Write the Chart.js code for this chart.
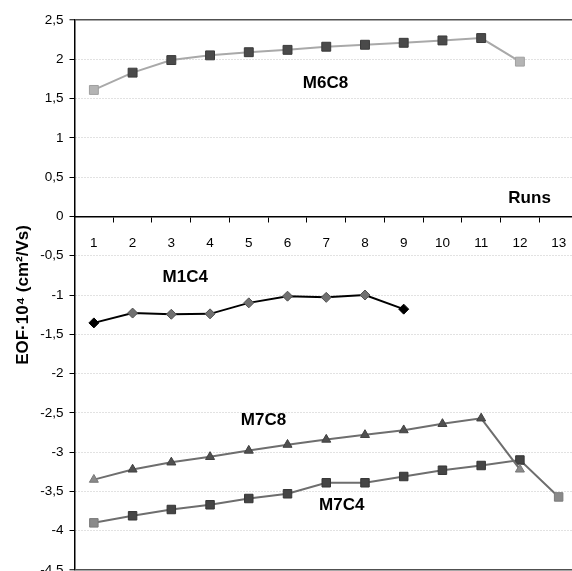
<!DOCTYPE html>
<html>
<head>
<meta charset="utf-8">
<script src="https://cdn.jsdelivr.net/npm/chart.js@4/dist/chart.umd.min.js"></script>
<style>
  html, body { margin: 0; padding: 0; overflow: hidden; background: #fff; }
  #wrap { width: 600px; height: 590px; }
</style>
</head>
<body>
<div id="wrap"><canvas id="eofChart"></canvas></div>
<script>
// runs on the x axis
const runs = ['1', '2', '3', '4', '5', '6', '7', '8', '9', '10', '11', '12', '13']

// EOF values (x10^4 cm2/Vs)
const m6c8 = [1.61, 1.83, 1.99, 2.05, 2.09, 2.12, 2.16, 2.185, 2.21, 2.24, 2.27, 1.97]
const m1c4 = [-1.355, -1.23, -1.245, -1.24, -1.10, -1.015, -1.03, -1.00, -1.18]
const m7c8 = [-3.35, -3.22, -3.13, -3.06, -2.98, -2.905, -2.84, -2.78, -2.72, -2.64, -2.57, -3.22]
const m7c4 = [-3.90, -3.81, -3.73, -3.67, -3.59, -3.53, -3.39, -3.39, -3.31, -3.23, -3.17, -3.10, -3.57]

// series names written inside the plot (x = run index from 0, y = EOF value)
const seriesNames = ['M6C8', 'M1C4', 'M7C8', 'M7C4']
const nameRun = [5.98, 2.36, 4.38, 6.40]
const nameEof = [1.70, -0.77, -2.60, -3.68]

const axisTitleX = 'Runs'
const axisTitleY = 'EOF·10⁴ (cm²/Vs)'

const FONT = '"Liberation Sans", Arial, Helvetica, sans-serif'

// first and last markers are lighter in the original
const markerColors = (n, ends, mid) => Array.from({ length: n }, (_, i) => (i === 0 || i === n - 1) ? ends : mid)

// draws the series names and the "Runs" label
const textLabels = {
    id: 'textLabels',
    afterDatasetsDraw(chart) {
        const { ctx, scales: { x, y } } = chart
        ctx.save()
        ctx.fillStyle = '#000'
        ctx.font = 'bold 17px ' + FONT
        ctx.textAlign = 'center'
        ctx.textBaseline = 'middle'
        seriesNames.forEach((name, i) => {
            ctx.fillText(name, x.getPixelForValue(nameRun[i]), y.getPixelForValue(nameEof[i]))
        })
        ctx.fillText(axisTitleX, x.getPixelForValue(11.25), y.getPixelForValue(0.225))
        ctx.restore()
    }
}

const data = {
    labels: runs,
    datasets: [
        {
            label: 'M6C8',
            data: m6c8,
            borderColor: '#a9a9a9',
            borderWidth: 2,
            pointStyle: 'rect',
            pointRadius: 6.3,
            pointBackgroundColor: markerColors(m6c8.length, '#b4b4b4', '#4a4a4a'),
            pointBorderColor: markerColors(m6c8.length, '#a0a0a0', '#3a3a3a'),
            pointBorderWidth: 1
        },
        {
            label: 'M1C4',
            data: m1c4,
            borderColor: '#000',
            borderWidth: 2,
            pointStyle: 'rectRot',
            pointRadius: 5,
            pointBackgroundColor: markerColors(m1c4.length, '#000', '#707070'),
            pointBorderColor: markerColors(m1c4.length, '#000', '#505050'),
            pointBorderWidth: 1
        },
        {
            label: 'M7C8',
            data: m7c8,
            borderColor: '#6e6e6e',
            borderWidth: 2,
            pointStyle: 'triangle',
            pointRadius: 5.2,
            pointBackgroundColor: markerColors(m7c8.length, '#8a8a8a', '#505050'),
            pointBorderColor: markerColors(m7c8.length, '#777', '#404040'),
            pointBorderWidth: 1
        },
        {
            label: 'M7C4',
            data: m7c4,
            borderColor: '#6e6e6e',
            borderWidth: 2,
            pointStyle: 'rect',
            pointRadius: 6,
            pointBackgroundColor: markerColors(m7c4.length, '#8a8a8a', '#454545'),
            pointBorderColor: markerColors(m7c4.length, '#7a7a7a', '#363636'),
            pointBorderWidth: 1
        }
    ]
}

const isEdge = v => v === 2.5 || v === -4.5

const options = {
    responsive: true,
    maintainAspectRatio: false,
    animation: false,
    layout: { padding: { top: 20, right: 22, bottom: 20, left: 0 } },
    plugins: {
        legend: { display: false },
        tooltip: { enabled: false }
    },
    scales: {
        x: {
            type: 'category',
            position: { y: 0 },
            offset: true,
            grid: {
                offset: true,
                drawOnChartArea: false,
                drawTicks: true,
                tickLength: 5,
                tickColor: '#000',
                tickWidth: 1
            },
            border: { display: true, color: '#000', width: 1.5 },
            ticks: {
                color: '#000',
                font: { family: FONT, size: 13.5 },
                padding: 14,
                maxRotation: 0
            }
        },
        y: {
            min: -4.5,
            max: 2.5,
            afterFit: scale => { scale.width = 74.5 },
            ticks: {
                stepSize: 0.5,
                color: '#000',
                font: { family: FONT, size: 13.5 },
                padding: 6,
                callback: v => String(v).replace('.', ',')
            },
            grid: {
                color: ctx => ctx.tick && isEdge(ctx.tick.value) ? '#505050' : '#c4c4c4',
                lineWidth: ctx => ctx.tick && isEdge(ctx.tick.value) ? 1.5 : 1,
                tickLength: 5,
                tickColor: '#000',
                tickWidth: 1
            },
            border: {
                display: true,
                color: '#000',
                width: 1.5,
                dash: ctx => ctx.tick && !isEdge(ctx.tick.value) ? [1, 2] : []
            },
            title: {
                display: true,
                text: axisTitleY,
                color: '#000',
                font: { family: FONT, size: 17, weight: 'bold' },
                padding: { top: 13, bottom: 0 }
            }
        }
    }
}

new Chart('eofChart', { type: 'line', data, options, plugins: [textLabels] })
</script>
</body>
</html>
